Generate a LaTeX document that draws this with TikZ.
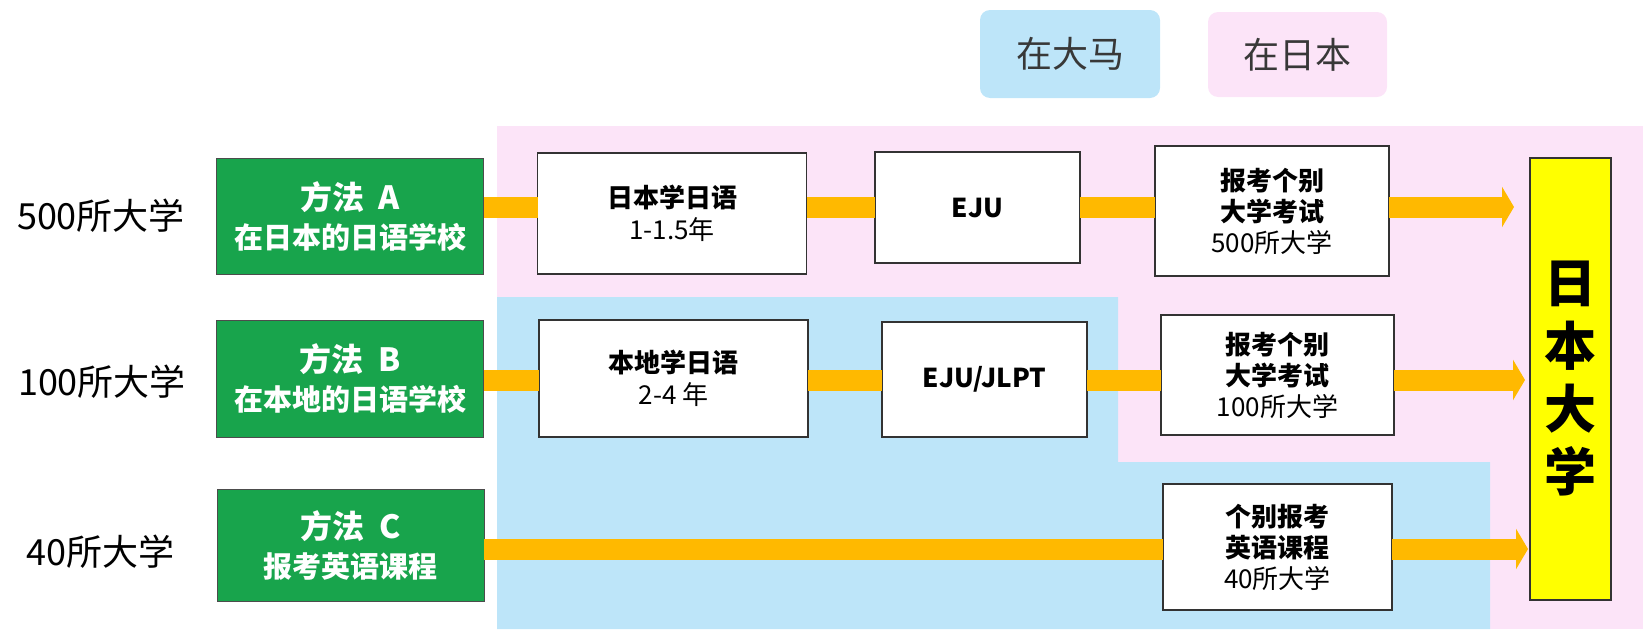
\documentclass[tikz,border=0pt]{standalone}
\usepackage{fontspec}
\setmainfont{Noto Sans CJK SC}
\usetikzlibrary{arrows.meta}
\definecolor{pinkbg}{RGB}{252,228,248}
\definecolor{bluebg}{RGB}{189,229,249}
\definecolor{greenbox}{RGB}{24,164,76}
\definecolor{flowc}{RGB}{255,185,0}
\definecolor{uniy}{RGB}{255,255,0}
\newcommand{\methodtitle}[1]{{\fontsize{32}{39}\selectfont 方法\hspace{0.45em}#1}}
\tikzset{
  every node/.style={inner sep=0pt, outer sep=0pt},
  stepbox/.style={draw=black!80, line width=1.3pt, fill=white, align=center,
    font=\fontsize{26}{32}\selectfont},
  methodbox/.style={draw=black!70, line width=1pt, fill=greenbox, text=white, align=center,
    font=\bfseries\fontsize{29}{39}\selectfont, minimum width=267pt},
  rowlabel/.style={font=\fontsize{36}{40}\selectfont, text=black},
  legendbox/.style={rounded corners=10pt, align=center, font=\fontsize{36}{40}\selectfont, text=black!78},
  unibox/.style={draw=black!80, line width=1.3pt, fill=uniy, align=center,
    font=\bfseries\fontsize{52}{63}\selectfont},
  flowline/.style={draw=flowc, line width=21pt},
  flowarrow/.style={flowline, -{Triangle[length=12pt,width=40pt]}},
}
\begin{document}
\begin{tikzpicture}[x=1pt,y=-1pt]
\useasboundingbox (0,0) rectangle (1643,629);
% backgrounds
\fill[pinkbg] (497,126) rectangle (1643,629);
\fill[bluebg] (497,297) -- (1118,297) -- (1118,462) -- (1490,462) -- (1490,629) -- (497,629) -- cycle;
% legend
\node[legendbox, fill=bluebg, minimum width=180pt, minimum height=88pt] (lgMY) at (1070,54) {在大马};
\node[legendbox, fill=pinkbg, minimum width=179pt, minimum height=85pt] (lgJP) at (1297.5,54.5) {在日本};
% row coordinates
\coordinate (rowA) at (0,207);
\coordinate (rowB) at (0,380);
\coordinate (rowC) at (0,549);
% row labels
\node[rowlabel] (lA) at (101,216) {500所大学};
\node[rowlabel] (lB) at (102,382) {100所大学};
\node[rowlabel] (lC) at (100.5,552) {40所大学};
% method boxes
\node[methodbox, minimum height=116pt] (gA) at (350,216) {\methodtitle{A}\\在日本的日语学校};
\node[methodbox, minimum height=117pt] (gB) at (350,378.5) {\methodtitle{B}\\在本地的日语学校};
\node[methodbox, minimum height=112pt] (gC) at (350.5,545) {\methodtitle{C}\\报考英语课程};
% step boxes
\node[stepbox, minimum width=269pt, minimum height=121pt] (s1) at (672,213.5) {{\bfseries 日本学日语}\\1-1.5年};
\node[stepbox, minimum width=205pt, minimum height=111pt] (s2) at (977.5,207.5) {\bfseries EJU};
\node[stepbox, minimum width=234pt, minimum height=130pt] (s3) at (1272,211) {{\bfseries 报考个别}\\[-1pt]{\bfseries 大学考试}\\[-1pt]500所大学};
\node[stepbox, minimum width=269pt, minimum height=117pt] (t1) at (673.5,378.5) {{\bfseries 本地学日语}\\2-4 年};
\node[stepbox, minimum width=205pt, minimum height=115pt] (t2) at (984.5,379.5) {\bfseries EJU/JLPT};
\node[stepbox, minimum width=233pt, minimum height=120pt] (t3) at (1277.5,375) {{\bfseries 报考个别}\\[-1pt]{\bfseries 大学考试}\\[-1pt]100所大学};
\node[stepbox, minimum width=229pt, minimum height=126pt] (u3) at (1277.5,547) {{\bfseries 个别报考}\\[-1pt]{\bfseries 英语课程}\\[-1pt]40所大学};
\node[unibox, minimum width=81pt, minimum height=442pt] (uni) at (1570.5,379) {日\\本\\大\\学};
% flows
\draw[flowline] (gA.east |- rowA) -- (s1.west |- rowA);
\draw[flowline] (s1.east |- rowA) -- (s2.west |- rowA);
\draw[flowline] (s2.east |- rowA) -- (s3.west |- rowA);
\draw[flowarrow, shorten >=16pt] (s3.east |- rowA) -- (uni.west |- rowA);
\draw[flowline] (gB.east |- rowB) -- (t1.west |- rowB);
\draw[flowline] (t1.east |- rowB) -- (t2.west |- rowB);
\draw[flowline] (t2.east |- rowB) -- (t3.west |- rowB);
\draw[flowarrow, shorten >=5pt] (t3.east |- rowB) -- (uni.west |- rowB);
\draw[flowline] (gC.east |- rowC) -- (u3.west |- rowC);
\draw[flowarrow, shorten >=2pt] (u3.east |- rowC) -- (uni.west |- rowC);
\end{tikzpicture}
\end{document}
